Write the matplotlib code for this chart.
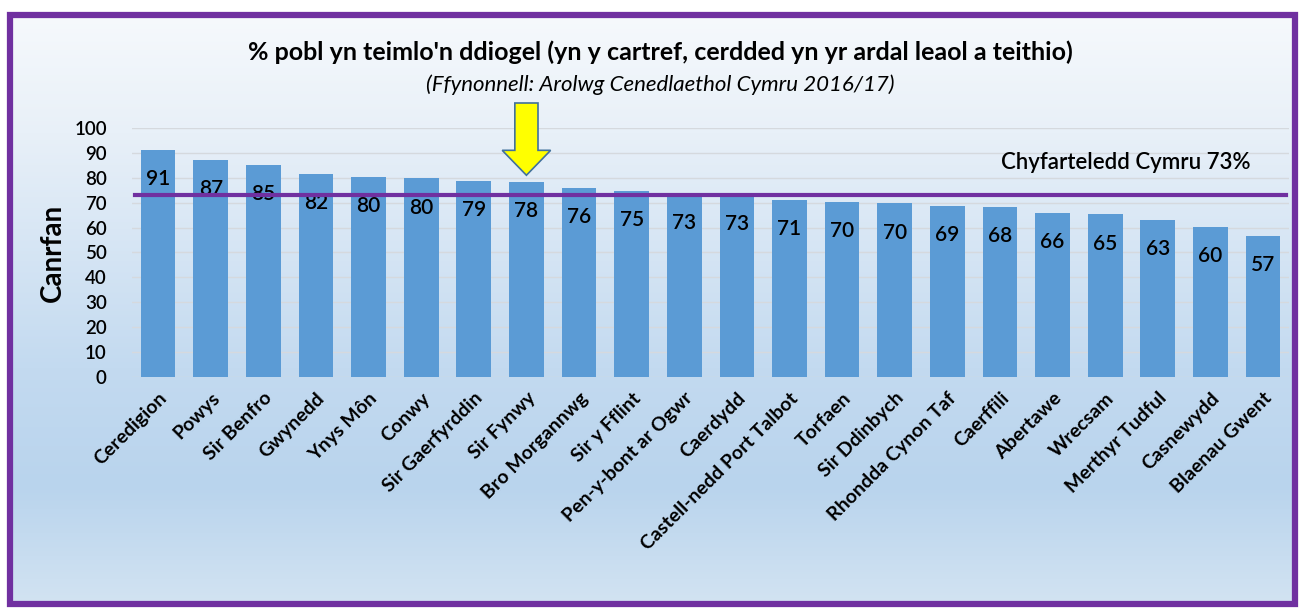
import matplotlib
matplotlib.use("Agg")
import matplotlib.pyplot as plt
import numpy as np
from matplotlib.patches import Rectangle, Polygon
from matplotlib.colors import LinearSegmentedColormap

areas = [
    "Ceredigion", "Powys", "Sir Benfro", "Gwynedd", "Ynys Môn", "Conwy",
    "Sir Gaerfyrddin", "Sir Fynwy", "Bro Morgannwg", "Sir y Fflint",
    "Pen-y-bont ar Ogwr", "Caerdydd", "Castell-nedd Port Talbot", "Torfaen",
    "Sir Ddinbych", "Rhondda Cynon Taf", "Caerffili", "Abertawe", "Wrecsam",
    "Merthyr Tudful", "Casnewydd", "Blaenau Gwent",
]
values = [91.0, 87.2, 85.3, 81.6, 80.2, 79.7, 78.8, 78.2, 75.8, 74.7, 73.4,
          73.2, 71.2, 70.2, 69.7, 68.8, 68.2, 65.8, 65.3, 63.0, 60.2, 56.8]
wales_avg = 73
highlight = "Sir Fynwy"

title = "% pobl yn teimlo'n ddiogel (yn y cartref, cerdded yn yr ardal leaol a teithio)"
subtitle = "(Ffynonnell: Arolwg Cenedlaethol Cymru 2016/17)"
avg_label = "Chyfarteledd Cymru 73%"
ylabel = "Canrfan"

plt.rcParams["font.family"] = ["Lato", "DejaVu Sans"]
purple = "#7030A0"
bar_blue = "#5B9BD5"

fig = plt.figure(figsize=(13.05, 6.12), dpi=100)
fig.patch.set_facecolor("white")

# background panel with gradient and purple frame
bg = fig.add_axes([0, 0, 1, 1], zorder=0)
bg.set_xlim(0, 1305)
bg.set_ylim(612, 0)
bg.axis("off")
grad = LinearSegmentedColormap.from_list(
    "bg", [(0, "#f6f9fc"), (0.2, "#e8f0f8"), (0.6, "#c3daf0"),
           (0.8, "#b9d4ed"), (1.0, "#d2e3f2")])
g = np.linspace(0, 1, 256).reshape(-1, 1)
bg.imshow(g, cmap=grad, aspect="auto", extent=[10, 1295, 604, 15], zorder=0)
bg.add_patch(Rectangle((10, 15), 1285, 589, fill=False, edgecolor=purple,
                       linewidth=4.5, zorder=2))

ax = fig.add_axes([0.101, 0.384, 0.887, 0.407], zorder=1)
ax.set_facecolor("none")
x = np.arange(len(areas))
ax.bar(x, values, width=0.66, color=bar_blue, zorder=2)
for xi, v in zip(x, values):
    ax.annotate(f"{round(v)}", (xi, v), xytext=(0, -21), textcoords="offset points",
                ha="center", va="center", fontsize=15, fontweight="semibold",
                color="black", zorder=3)
ax.axhline(wales_avg, xmin=0.003, xmax=0.997, color=purple, lw=3, zorder=4)
ax.text(18.4, 86.3, avg_label, ha="center", va="center", fontsize=16,
        fontweight="semibold")

# yellow arrow over highlighted bar
hx = areas.index(highlight)
arrow = Polygon([(hx - 0.22, 110), (hx + 0.22, 110), (hx + 0.22, 91),
                 (hx + 0.46, 91), (hx, 81), (hx - 0.46, 91), (hx - 0.22, 91)],
                closed=True, facecolor="#FFFF00", edgecolor="#41719C",
                linewidth=1.2, clip_on=False, zorder=5)
ax.add_patch(arrow)

ax.set_xlim(-0.5, len(areas) - 0.5)
ax.set_ylim(0, 100)
ax.set_yticks(range(0, 101, 10))
ax.grid(axis="y", color="#d5d9de", linewidth=1, zorder=0)
for s in ax.spines.values():
    s.set_visible(False)
ax.tick_params(axis="both", length=0)
ax.tick_params(axis="y", labelsize=13.5, pad=18)
ax.set_xticks(x)
ax.set_xticklabels(areas, rotation=45, ha="right", rotation_mode="anchor",
                   fontsize=14, fontweight="bold")
ax.tick_params(axis="x", pad=9)
for lbl in ax.get_yticklabels():
    lbl.set_fontweight("semibold")
ax.set_ylabel(ylabel, fontsize=20, fontweight="bold", labelpad=6)

fig.text(0.506, 0.915, title, ha="center", va="center", fontsize=18,
         fontweight="bold")
fig.text(0.506, 0.862, subtitle, ha="center", va="center", fontsize=16,
         style="italic")

fig.savefig("out.png", dpi=100)
